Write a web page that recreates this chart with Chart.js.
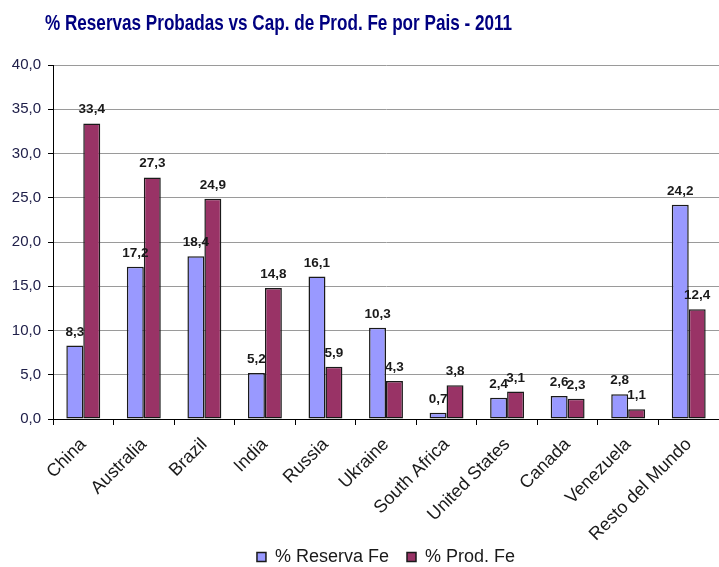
<!DOCTYPE html>
<html>
<head>
<meta charset="utf-8">
<script src="https://cdn.jsdelivr.net/npm/chart.js@4.4.1/dist/chart.umd.min.js"></script>
<style>
  html, body { margin: 0; padding: 0; background: #ffffff; }
  #wrap { width: 719px; height: 567px; position: relative; }
</style>
</head>
<body>
<div id="wrap"><canvas id="c" width="719" height="567"></canvas></div>
<script>
const titleText = "% Reservas Probadas vs Cap. de Prod. Fe por Pais - 2011";
const categories = ["China", "Australia", "Brazil", "India", "Russia", "Ukraine", "South Africa", "United States", "Canada", "Venezuela", "Resto del Mundo"];
const seriesNames = ["% Reserva Fe", "% Prod. Fe"];
const reservaFe = [8.3, 17.2, 18.4, 5.2, 16.1, 10.3, 0.7, 2.4, 2.6, 2.8, 24.2];
const prodFe = [33.4, 27.3, 24.9, 14.8, 5.9, 4.3, 3.8, 3.1, 2.3, 1.1, 12.4];
const yTicks = [0, 5, 10, 15, 20, 25, 30, 35, 40];

const FONT = "'Liberation Sans', Arial, sans-serif";
const fmt = v => v.toFixed(1).replace('.', ',');

const titlePlugin = {
  id: 'titlePlugin',
  afterDraw(chart) {
    const ctx = chart.ctx;
    ctx.save();
    ctx.font = "bold 22px " + FONT;
    ctx.fillStyle = "#000080";
    ctx.textAlign = "left";
    ctx.textBaseline = "middle";
    ctx.fillText(titleText, 45, 24, 467);
    ctx.restore();
  }
};

const valueLabels = {
  id: 'valueLabels',
  afterDatasetsDraw(chart) {
    const ctx = chart.ctx;
    ctx.save();
    ctx.font = "bold 13.5px " + FONT;
    ctx.fillStyle = "#1a1a1a";
    ctx.textAlign = "center";
    ctx.textBaseline = "alphabetic";
    chart.data.datasets.forEach((ds, i) => {
      const meta = chart.getDatasetMeta(i);
      meta.data.forEach((bar, j) => {
        ctx.fillText(fmt(ds.data[j]), bar.x, bar.y - 10);
      });
    });
    ctx.restore();
  }
};

new Chart(document.getElementById('c'), {
  type: 'bar',
  data: {
    labels: categories,
    datasets: [
      { label: seriesNames[0], data: reservaFe, backgroundColor: '#9999FF', borderColor: '#1a1a1a', borderWidth: 1.5, borderSkipped: false },
      { label: seriesNames[1], data: prodFe, backgroundColor: '#993366', borderColor: '#1a1a1a', borderWidth: 1.5, borderSkipped: false }
    ]
  },
  options: {
    responsive: false,
    animation: false,
    devicePixelRatio: 1,
    layout: { padding: { top: 65, right: 0, left: 0, bottom: -9 } },
    datasets: { bar: { categoryPercentage: 0.56, barPercentage: 1.0 } },
    plugins: {
      title: { display: false },
      tooltip: { enabled: false },
      legend: {
        position: 'bottom',
        fullSize: false,
        labels: {
          font: { family: FONT, size: 18 },
          color: '#1a1a1a',
          boxWidth: 9,
          boxHeight: 9,
          padding: 18
        }
      }
    },
    scales: {
      x: {
        grid: { display: true, drawOnChartArea: false, offset: true, tickLength: 6, tickColor: '#000000', color: '#000000' },
        border: { display: true, color: '#000000', width: 1 },
        ticks: {
          font: { family: FONT, size: 18 },
          color: '#1a1a1a',
          maxRotation: 45,
          minRotation: 45,
          autoSkip: false,
          padding: 9
        },
        afterFit(scale) {
          scale.height = 111;
          scale._computeLabelArea = () => undefined;
        }
      },
      y: {
        min: 0,
        max: 40,
        afterBuildTicks(scale) { scale.ticks = yTicks.map(v => ({ value: v })); },
        grid: { color: '#9a9a9a', tickLength: 5, tickColor: '#000000', lineWidth: 1 },
        border: { display: true, color: '#000000', width: 1 },
        ticks: {
          font: { family: FONT, size: 15 },
          color: '#20204a',
          padding: 7,
          callback: v => fmt(v)
        },
        afterFit(scale) { scale.width = 53; }
      }
    }
  },
  plugins: [titlePlugin, valueLabels]
});
</script>
</body>
</html>
